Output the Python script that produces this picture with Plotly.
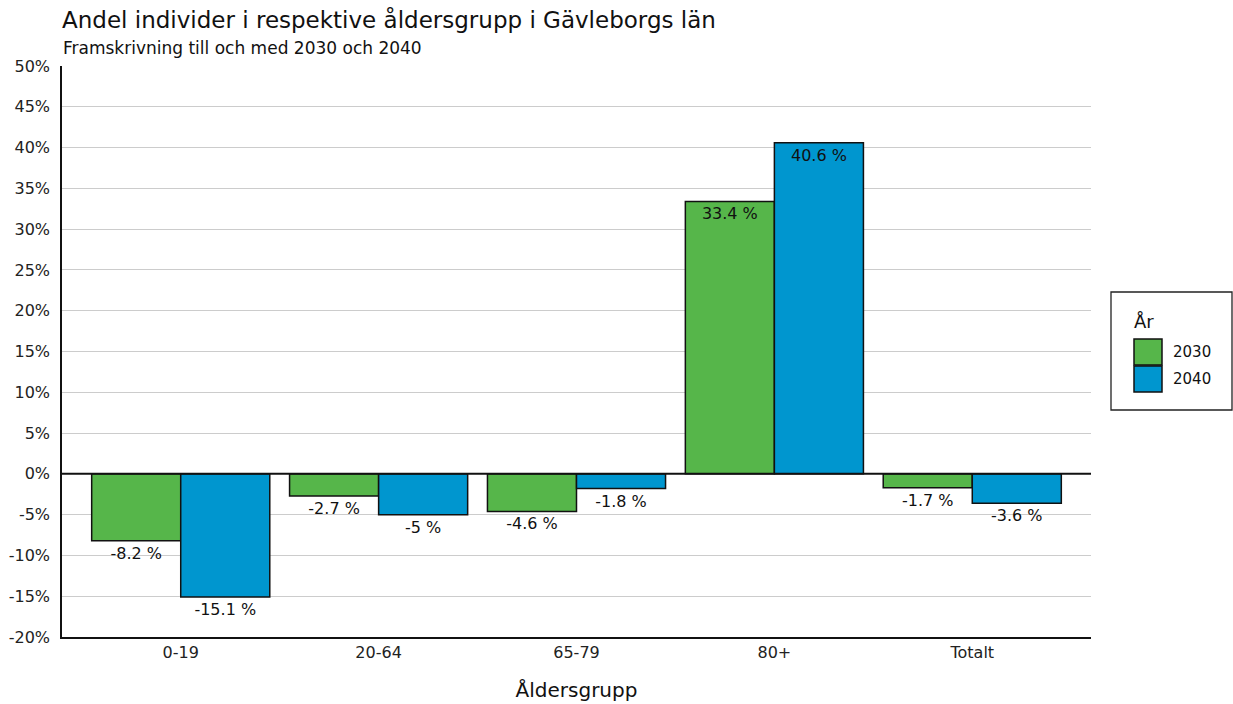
import plotly.graph_objects as go

# Age groups and projected change (%) per year
groups = ["0-19", "20-64", "65-79", "80+", "Totalt"]
change_2030 = [-8.2, -2.7, -4.6, 33.4, -1.7]
change_2040 = [-15.1, -5.0, -1.8, 40.6, -3.6]
years = ["2030", "2040"]
colors = ["#56b64a", "#0096cf"]
y_ticks = list(range(-20, 55, 5))

FONT = "DejaVu Sans, Liberation Sans, Arial, sans-serif"
INK = "#111111"


def labels(values):
    return [f"{v:g} %" for v in values]


def positions(values):
    return ["inside" if v > 0 else "outside" for v in values]


fig = go.Figure()
for name, vals, col in zip(years, [change_2030, change_2040], colors):
    fig.add_trace(go.Bar(
        x=groups,
        y=vals,
        name=name,
        marker=dict(color=col, line=dict(color=INK, width=1.5)),
        text=labels(vals),
        textposition=positions(vals),
        insidetextanchor="end",
        textangle=0,
        constraintext="none",
        textfont=dict(family=FONT, size=16, color=INK),
        insidetextfont=dict(family=FONT, size=16, color=INK),
        outsidetextfont=dict(family=FONT, size=16, color=INK),
        cliponaxis=False,
        showlegend=False,
    ))

fig.update_layout(
    width=1233,
    height=704,
    margin=dict(l=62, r=142, t=66, b=67),
    paper_bgcolor="white",
    plot_bgcolor="white",
    barmode="group",
    bargap=0.1,
    bargroupgap=0,
    font=dict(family=FONT, size=16, color="#222222"),
    uniformtext=dict(minsize=16, mode="show"),
)

fig.update_xaxes(
    range=[-0.6, 4.6],
    automargin=False,
    showgrid=False,
    showline=True,
    linecolor=INK,
    linewidth=1.5,
    ticks="",
    tickfont=dict(size=16, color="#222222"),
    title=dict(text="Åldersgrupp", font=dict(size=20, color=INK), standoff=22),
)

fig.update_yaxes(
    range=[-20, 50],
    automargin=False,
    tickvals=y_ticks,
    ticktext=[f"{t}%" for t in y_ticks],
    showgrid=True,
    gridcolor="#cccccc",
    gridwidth=1.2,
    zeroline=False,
    showline=True,
    linecolor=INK,
    linewidth=1.5,
    ticks="",
    ticklabelstandoff=7,
    tickfont=dict(size=16, color="#222222"),
)

# Zero reference line across the full plot width
fig.add_shape(type="line", xref="paper", yref="y", x0=0, x1=1, y0=0, y1=0,
              line=dict(color=INK, width=2), layer="above")

# Title and subtitle
fig.add_annotation(text="Andel individer i respektive åldersgrupp i Gävleborgs län",
                   xref="paper", yref="paper", x=0, y=1, xshift=-2, yshift=47,
                   xanchor="left", yanchor="middle", showarrow=False,
                   font=dict(size=23, color=INK))
fig.add_annotation(text="Framskrivning till och med 2030 och 2040",
                   xref="paper", yref="paper", x=0, y=1, xshift=-1, yshift=18,
                   xanchor="left", yanchor="middle", showarrow=False,
                   font=dict(size=17, color=INK))

# Legend box placed by pixel offsets to the right of the plot
plot_w = 1233 - 62 - 142
plot_h = 704 - 66 - 67


def px_x(px):
    return (px - 62) / plot_w


def px_y(py):
    return 1 - (py - 66) / plot_h


fig.add_shape(type="rect", xref="paper", yref="paper",
              x0=px_x(1111), x1=px_x(1232), y0=px_y(410), y1=px_y(292),
              line=dict(color="#222222", width=1.3), fillcolor="white")
fig.add_annotation(text="År", xref="paper", yref="paper",
                   x=px_x(1132), y=px_y(321), xanchor="left", yanchor="middle",
                   showarrow=False, font=dict(size=18, color=INK))
for i, (name, col) in enumerate(zip(years, colors)):
    top = 339 + i * 27
    fig.add_shape(type="rect", xref="paper", yref="paper",
                  x0=px_x(1134), x1=px_x(1162), y0=px_y(top + 26), y1=px_y(top),
                  line=dict(color=INK, width=1.5), fillcolor=col)
    fig.add_annotation(text=name, xref="paper", yref="paper",
                       x=px_x(1171), y=px_y(top + 13), xanchor="left", yanchor="middle",
                       showarrow=False, font=dict(size=15, color=INK))

fig.write_html("out.html")
